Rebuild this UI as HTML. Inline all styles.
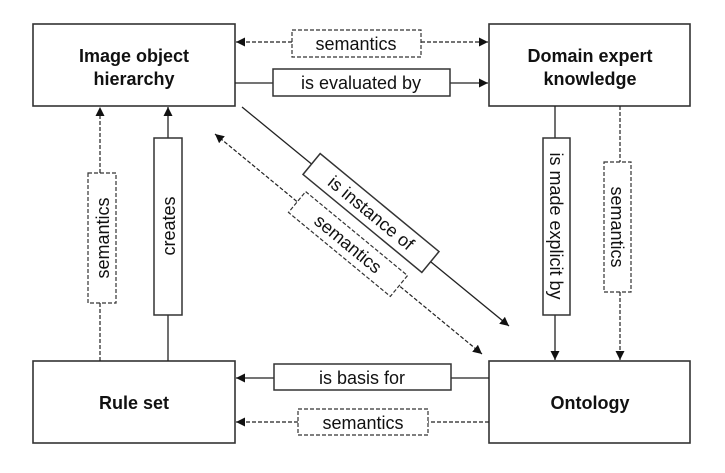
<!DOCTYPE html>
<html><head><meta charset="utf-8"><style>
html,body{margin:0;padding:0;background:#fff;}
svg{display:block;}
text{font-family:"Liberation Sans",Arial,sans-serif;fill:#111;}
.t{font-size:18px;}
.b{font-size:18px;font-weight:bold;}
</style></head><body>
<svg width="725" height="473" viewBox="0 0 725 473" xmlns="http://www.w3.org/2000/svg">
<defs>
<marker id="a" viewBox="0 0 10 10" refX="10" refY="5" markerWidth="9" markerHeight="9" markerUnits="userSpaceOnUse" orient="auto-start-reverse">
<path d="M0,0 L10,5 L0,10 z" fill="#111"/></marker>
</defs>
<g fill="#fff" stroke="#333" stroke-width="1.6">
<rect x="33" y="24" width="202" height="82"/>
<rect x="489" y="24" width="201" height="82"/>
<rect x="33" y="361" width="202" height="82"/>
<rect x="489" y="361" width="201" height="82"/>
</g>
<g class="b" text-anchor="middle">
<text x="134" y="62">Image object</text>
<text x="134" y="85">hierarchy</text>
<text x="590" y="62">Domain expert</text>
<text x="590" y="85">knowledge</text>
<text x="134" y="409">Rule set</text>
<text x="590" y="409">Ontology</text>
</g>
<g stroke="#222" stroke-width="1.3" fill="none">
<line x1="235" y1="83" x2="273" y2="83"/>
<line x1="450" y1="83" x2="488" y2="83" marker-end="url(#a)"/>
<line x1="555" y1="106" x2="555" y2="138"/>
<line x1="555" y1="315" x2="555" y2="360" marker-end="url(#a)"/>
<line x1="168" y1="315" x2="168" y2="361"/>
<line x1="168" y1="138" x2="168" y2="107" marker-end="url(#a)"/>
<line x1="489" y1="378" x2="451" y2="378"/>
<line x1="274" y1="378" x2="236" y2="378" marker-end="url(#a)"/>
<line x1="242" y1="107" x2="509" y2="326" marker-end="url(#a)"/>
</g>
<g stroke="#222" stroke-width="1.2" fill="none" stroke-dasharray="4,2">
<line x1="292" y1="42" x2="236" y2="42" marker-end="url(#a)"/>
<line x1="421" y1="42" x2="488" y2="42" marker-end="url(#a)"/>
<line x1="620" y1="106" x2="620" y2="162"/>
<line x1="620" y1="292" x2="620" y2="360" marker-end="url(#a)"/>
<line x1="100" y1="361" x2="100" y2="303"/>
<line x1="100" y1="173" x2="100" y2="107" marker-end="url(#a)"/>
<line x1="489" y1="422" x2="428" y2="422"/>
<line x1="298" y1="422" x2="236" y2="422" marker-end="url(#a)"/>
<line x1="215" y1="134" x2="482" y2="354" marker-start="url(#a)" marker-end="url(#a)"/>
</g>
<g fill="#fff" stroke="#333" stroke-width="1.5">
<rect x="273" y="69" width="177" height="27"/>
<rect x="274" y="364" width="177" height="26"/>
<rect x="543" y="138" width="27" height="177"/>
<rect x="154" y="138" width="28" height="177"/>
<rect x="-77" y="-13.5" width="154" height="27" transform="translate(371,213) rotate(39.5)"/>
</g>
<g fill="#fff" stroke="#333" stroke-width="1.2" stroke-dasharray="4,2">
<rect x="292" y="30" width="129" height="27"/>
<rect x="298" y="409" width="130" height="26"/>
<rect x="604" y="162" width="27" height="130"/>
<rect x="88" y="173" width="28" height="130"/>
<rect x="-66" y="-13.5" width="132" height="27" transform="translate(348,244) rotate(39.5)"/>
</g>
<g class="t" text-anchor="middle">
<text x="356" y="50">semantics</text>
<text x="361" y="89">is evaluated by</text>
<text x="362" y="384">is basis for</text>
<text x="363" y="429">semantics</text>
<text transform="translate(550,226) rotate(90)">is made explicit by</text>
<text transform="translate(611,227) rotate(90)">semantics</text>
<text transform="translate(175,226) rotate(-90)">creates</text>
<text transform="translate(109,238) rotate(-90)">semantics</text>
<text transform="translate(371,213) rotate(39.5) translate(0,6)">is instance of</text>
<text transform="translate(348,244) rotate(39.5) translate(0,6)">semantics</text>
</g>
</svg>
</body></html>
